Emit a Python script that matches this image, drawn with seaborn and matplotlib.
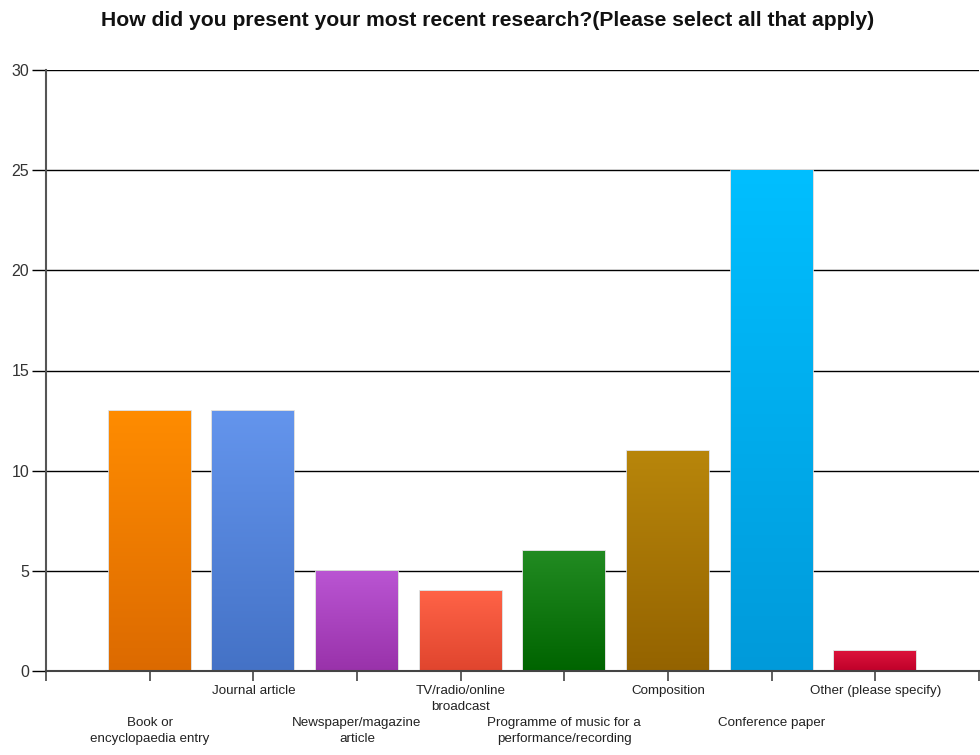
import numpy as np
import pandas as pd
import matplotlib
matplotlib.use("Agg")
import matplotlib.pyplot as plt
import matplotlib.colors as mcolors
import seaborn as sns

categories = [
    "Book or\nencyclopaedia entry",
    "Journal article",
    "Newspaper/magazine\narticle",
    "TV/radio/online\nbroadcast",
    "Programme of music for a\nperformance/recording",
    "Composition",
    "Conference paper",
    "Other (please specify)",
]
counts = [13, 13, 5, 4, 6, 11, 25, 1]
top_colors = ["#FF8C00", "#6495ED", "#BA55D3", "#FF6347", "#228B22", "#B8860B", "#00BFFF", "#DC143C"]
bottom_colors = ["#DC6A00", "#4472C6", "#9932AA", "#E0452E", "#006400", "#946300", "#009ADA", "#C0002A"]
y_ticks = [0, 5, 10, 15, 20, 25, 30]

sns.set_theme(style="white")
plt.rcParams["font.family"] = ["Liberation Sans", "DejaVu Sans"]

df = pd.DataFrame({"cat": categories, "n": counts})
df["pos"] = np.arange(1, len(categories) + 1)

fig = plt.figure(figsize=(9.8, 7.55), dpi=100)
ax = fig.add_axes([46 / 980, 1 - 671 / 755, 933 / 980, 601 / 755])

sns.barplot(data=df, x="pos", y="n", hue="cat", palette=top_colors, legend=False,
            native_scale=True, width=0.79, ax=ax, edgecolor="#D8D8D8", linewidth=1.2,
            saturation=1)

# vertical gradient fill for each bar, clipped to the bar shape
for patch, c_top, c_bot in zip(ax.patches, top_colors, bottom_colors):
    x0, y0 = patch.get_x(), patch.get_y()
    w, h = patch.get_width(), patch.get_height()
    cmap = mcolors.LinearSegmentedColormap.from_list("g", [c_bot, c_top])
    grad = np.linspace(0, 1, 256).reshape(-1, 1)
    im = ax.imshow(grad, cmap=cmap, aspect="auto", origin="lower",
                   extent=[x0, x0 + w, y0, y0 + h], zorder=patch.get_zorder() + 0.1)
    im.set_clip_path(patch)

ax.set_xlim(0, len(categories) + 1)
ax.set_ylim(0, 30)
ax.set_yticks(y_ticks)
ax.set_yticklabels([str(t) for t in y_ticks], fontsize=11.5, color="#333333")
ax.yaxis.grid(True, color="#000000", linewidth=1.0)
ax.set_axisbelow(True)

ax.set_xticks(np.arange(0, len(categories) + 2))
ax.set_xticklabels([])
ax.tick_params(axis="x", bottom=True, length=7, width=1.2, color="#444444")
ax.tick_params(axis="y", left=True, length=10, width=1.0, color="#000000", pad=2)

# staggered category labels
for i, label in enumerate(categories):
    y_off = -14 if i % 2 == 1 else -46
    ax.annotate(label, xy=(i + 1, 0), xycoords="data", xytext=(0, y_off),
                textcoords="offset pixels",
                ha="center", va="top", fontsize=9.6, color="#222222", linespacing=1.45)

for side in ["top", "right"]:
    ax.spines[side].set_visible(False)
ax.spines["left"].set_color("#555555")
ax.spines["left"].set_linewidth(1.5)
ax.spines["bottom"].set_color("#444444")
ax.spines["bottom"].set_linewidth(1.5)
ax.set_xlabel("")
ax.set_ylabel("")

fig.suptitle("How did you present your most recent research?(Please select all that apply)",
             x=488 / 980, y=1 - 11 / 755, va="top", fontsize=15.2, fontweight="bold", color="#111111")

fig.savefig("out.png", dpi=100, facecolor="white")
